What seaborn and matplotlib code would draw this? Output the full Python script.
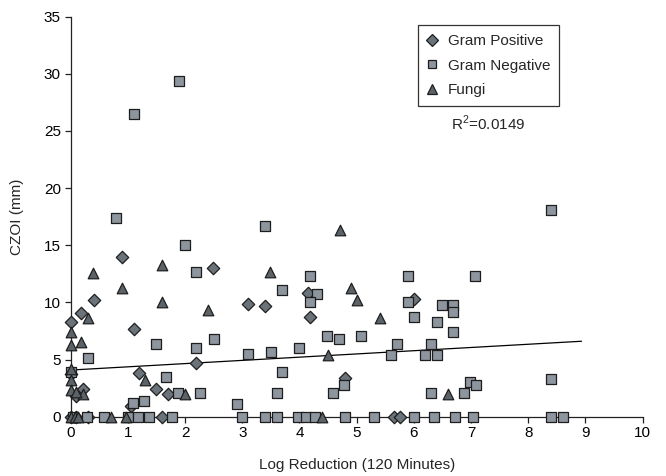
import matplotlib
matplotlib.use("Agg")
import matplotlib.pyplot as plt
from matplotlib.lines import Line2D
import seaborn as sns
import pandas as pd

# ---- data ----
gp_x = [0, 0.19, 0.41, 0.9, 1.11, 2.49, 3.1, 3.4, 4.15, 4.18, 6.0, 2.2, 1.2, 0.0,
        1.5, 1.7, 0.22, 0.1, 1.05, 4.8, 0, 0.1, 0.3, 1.6, 5.65, 5.76]
gp_y = [8.3, 9.1, 10.2, 14.0, 7.7, 13.0, 9.9, 9.7, 10.85, 8.7, 10.3, 4.7, 3.8, 3.7,
        2.4, 2.0, 2.4, 1.8, 0.9, 3.4, 0, 0, 0, 0, 0, 0]

gn_x = [1.1, 1.9, 8.4, 0.8, 2.0, 3.4, 2.2, 4.18, 5.9, 7.07, 3.7, 4.3, 4.18, 5.9,
        6.5, 6.68, 6.68, 6.0, 6.4, 6.68, 4.49, 4.7, 5.07, 2.5, 1.5, 2.2, 4.0, 5.7,
        6.3, 3.1, 3.5, 5.6, 6.2, 6.4, 0.3, 0.0, 3.7, 1.67, 1.88, 2.26, 3.6, 4.58,
        4.78, 6.3, 6.88, 6.99, 7.09, 8.39, 1.09, 1.29, 2.9,
        0.05, 0.28, 0.59, 1.0, 1.18, 1.37, 1.78, 2.99, 3.4, 3.6, 3.98, 4.11, 4.27,
        4.8, 5.3, 6.0, 6.35, 6.72, 7.03, 8.4, 8.6]
gn_y = [26.5, 29.4, 18.1, 17.4, 15.0, 16.7, 12.7, 12.3, 12.3, 12.3, 11.1, 10.7, 10.0, 10.0,
        9.8, 9.8, 9.2, 8.75, 8.3, 7.4, 7.06, 6.77, 7.06, 6.8, 6.4, 6.0, 6.0, 6.4,
        6.4, 5.5, 5.7, 5.4, 5.4, 5.4, 5.1, 3.9, 3.9, 3.5, 2.05, 2.05, 2.05, 2.05,
        2.8, 2.05, 2.05, 3.06, 2.77, 3.27, 1.17, 1.37, 1.1,
        0, 0, 0, 0, 0, 0, 0, 0, 0, 0, 0, 0, 0,
        0, 0, 0, 0, 0, 0, 0, 0]

fu_x = [0.4, 1.6, 0.89, 1.6, 0.3, 0, 0.19, 0, 0, 1.3, 0, 2.0, 0.22, 0, 0.1,
        2.41, 3.48, 4.71, 4.91, 5.0, 5.41, 4.5, 6.6,
        0, 0.08, 0.13, 0.7, 0.96, 4.4]
fu_y = [12.6, 13.3, 11.3, 10.0, 8.6, 7.4, 6.5, 6.3, 4.2, 3.2, 3.2, 2.0, 2.0, 2.3, 2.2,
        9.3, 12.7, 16.3, 11.3, 10.2, 8.6, 5.4, 2.0,
        0, 0, 0, 0, 0, 0]

trend_x = [0.0, 8.93]
trend_y = [4.08, 6.6]
r2_label = "0.0149"

groups = ["Gram Positive", "Gram Negative", "Fungi"]
x_ticks = list(range(0, 11))
y_ticks = list(range(0, 36, 5))

# ---- style ----
sns.set_style("ticks")
plt.rcParams["font.family"] = ["Liberation Sans", "DejaVu Sans"]
plt.rcParams["mathtext.fontset"] = "custom"
plt.rcParams["mathtext.rm"] = "Liberation Sans"

colors = {"Gram Positive": "#6b737a", "Gram Negative": "#8d969e", "Fungi": "#5b6369"}
markers = {"Gram Positive": "D", "Gram Negative": "s", "Fungi": "^"}
sizes = {"Gram Positive": 40, "Gram Negative": 44, "Fungi": 58}
edge = "#1e1e1e"
fs = 11

fig = plt.figure(figsize=(6.66, 4.76), dpi=100)
ax = fig.add_axes([0.106, 0.1246, 0.859, 0.8404])

data = {
    "Gram Positive": (gp_x, gp_y),
    "Gram Negative": (gn_x, gn_y),
    "Fungi": (fu_x, fu_y),
}
for g in groups:
    xs, ys = data[g]
    df = pd.DataFrame({"x": xs, "y": ys})
    sns.scatterplot(data=df, x="x", y="y", ax=ax, marker=markers[g],
                    color=colors[g], s=sizes[g], edgecolor=edge, linewidth=0.9,
                    clip_on=False, zorder=3, legend=False)

sns.lineplot(x=trend_x, y=trend_y, ax=ax, color="black", linewidth=0.9, zorder=2)

ax.set_xlim(0, 10)
ax.set_ylim(0, 35)
ax.set_xticks(x_ticks)
ax.set_yticks(y_ticks)
ax.tick_params(axis="both", direction="out", length=4, width=0.9, colors="#222222",
               labelsize=fs, labelcolor="black", pad=3)
for s in ["left", "bottom"]:
    ax.spines[s].set_linewidth(0.9)
    ax.spines[s].set_color("#222222")
sns.despine(ax=ax)
ax.set_xlabel("Log Reduction (120 Minutes)", fontsize=fs, labelpad=13)
ax.set_ylabel("CZOI (mm)", fontsize=fs, labelpad=14)

handles = [Line2D([0], [0], marker=markers[g], linestyle="none",
                  markerfacecolor=colors[g], markeredgecolor=edge,
                  markeredgewidth=0.9, markersize=6 if g != "Fungi" else 7)
           for g in groups]
leg = ax.legend(handles, groups, loc="upper left", bbox_to_anchor=(0.607, 0.978),
                frameon=True, fancybox=False, fontsize=fs, handlelength=0.8,
                handletextpad=0.6, borderpad=0.55, labelspacing=0.7,
                borderaxespad=0)
leg.get_frame().set_edgecolor("black")
leg.get_frame().set_linewidth(0.9)

ax.text(0.73, 0.733, r"R$^{2}$=" + r2_label, transform=ax.transAxes,
        ha="center", va="center", fontsize=fs)

fig.savefig("out.png", dpi=100)
